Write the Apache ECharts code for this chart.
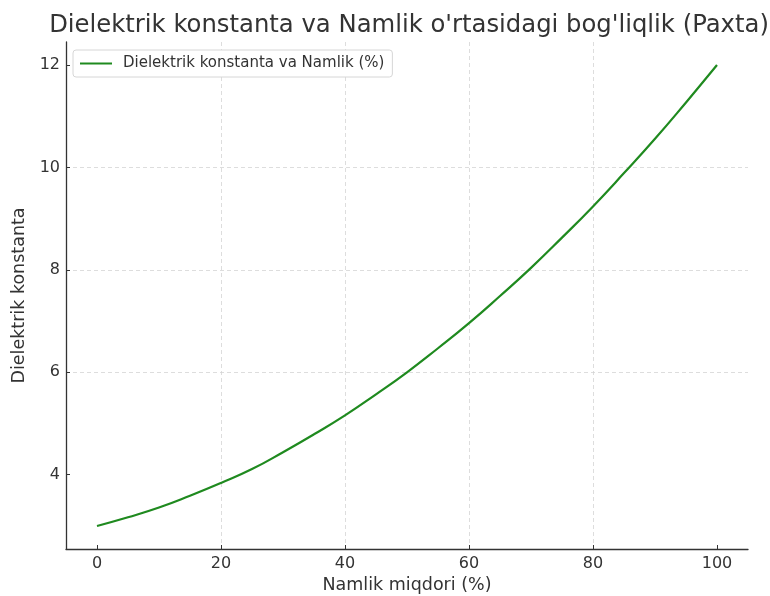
<!DOCTYPE html>
<html>
<head>
<meta charset="utf-8">
<script src="https://cdn.jsdelivr.net/npm/echarts@6/dist/echarts.min.js"></script>
<style>
  html, body { margin: 0; padding: 0; background: #fff; }
  #chart { width: 770px; height: 596px; }
</style>
</head>
<body>
<div id="chart"></div>
<script>
// namlik (%) va dielektrik konstanta qiymatlari (rasmdan o'qilgan)
var namlik = [0, 5, 10, 15, 20, 25, 30, 35, 40, 45, 50, 55, 60, 65, 70, 75, 80, 85, 90, 95, 100];
var dielektrik = [3.0, 3.17, 3.36, 3.59, 3.84, 4.11, 4.44, 4.79, 5.16, 5.57, 6.0,
  6.47, 6.96, 7.49, 8.04, 8.63, 9.24, 9.89, 10.56, 11.27, 12.0];
var xTicks = [0, 20, 40, 60, 80, 100];
var yTicks = [4, 6, 8, 10, 12];

var points = [];
for (var i = 0; i < namlik.length; i++) {
  points.push([namlik[i], dielektrik[i]]);
}

var font = "DejaVu Sans";
var myChart = echarts.init(document.getElementById("chart"));
myChart.setOption({
  animation: false,
  title: {
    text: "Dielektrik konstanta va Namlik o'rtasidagi bog'liqlik (Paxta)",
    left: 404,
    textAlign: "center",
    top: 9,
    textStyle: { fontFamily: font, fontSize: 24.3, fontWeight: "normal", color: "#333" }
  },
  legend: {
    left: 73,
    top: 50,
    icon: "rect",
    itemWidth: 32,
    itemHeight: 2,
    padding: [6, 8, 6, 7],
    backgroundColor: "#fff",
    borderColor: "#d6d6d6",
    borderWidth: 1,
    borderRadius: 3,
    textStyle: { fontFamily: font, fontSize: 15, color: "#333", padding: [0, 0, 0, 6] },
    data: ["Dielektrik konstanta va Namlik (%)"]
  },
  grid: { left: 66, right: 22, top: 42, bottom: 47, outerBoundsMode: "none" },
  xAxis: {
    type: "value",
    min: -5,
    max: 105,
    name: "Namlik miqdori (%)",
    nameLocation: "middle",
    nameGap: 27,
    nameTextStyle: { fontFamily: font, fontSize: 17.5, color: "#333" },
    axisLine: { onZero: false, lineStyle: { color: "#333", width: 1.3 } },
    axisTick: { customValues: xTicks, inside: true, length: 4, lineStyle: { color: "#333" } },
    axisLabel: { customValues: xTicks, fontFamily: font, fontSize: 16, color: "#333", margin: 7 },
    splitLine: {
      show: true,
      showMinLine: false,
      showMaxLine: false,
      lineStyle: { color: "#d4d4d4", type: [4, 3], width: 0.8 }
    }
  },
  yAxis: {
    type: "value",
    min: 2.55,
    max: 12.45,
    name: "Dielektrik konstanta",
    nameLocation: "middle",
    nameGap: 37,
    nameTextStyle: { fontFamily: font, fontSize: 17.5, color: "#333" },
    axisLine: { show: true, onZero: false, lineStyle: { color: "#333", width: 1.3 } },
    axisTick: { show: true, customValues: yTicks, inside: true, length: 4, lineStyle: { color: "#333" } },
    axisLabel: { customValues: yTicks, fontFamily: font, fontSize: 16, color: "#333", margin: 6 },
    splitLine: {
      show: true,
      showMinLine: false,
      showMaxLine: false,
      lineStyle: { color: "#d4d4d4", type: [4, 3], width: 0.8 }
    }
  },
  series: [
    {
      name: "Dielektrik konstanta va Namlik (%)",
      type: "line",
      data: points,
      smooth: true,
      symbol: "none",
      lineStyle: { color: "#1f8a1f", width: 2.2 },
      itemStyle: { color: "#1f8a1f" }
    }
  ]
});
</script>
</body>
</html>
